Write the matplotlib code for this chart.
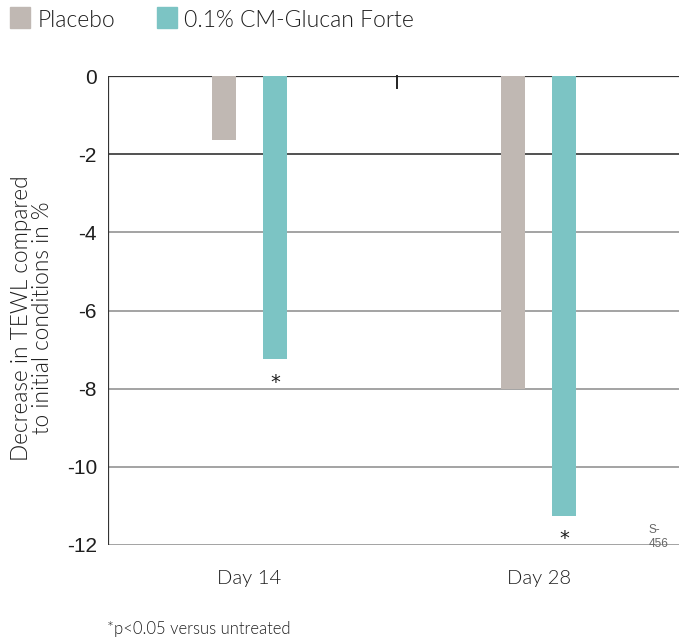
import matplotlib
matplotlib.use("Agg")
import matplotlib.pyplot as plt
from matplotlib.patches import Rectangle
import numpy as np

categories = ["Day 14", "Day 28"]
placebo = [-1.65, -8.0]
cm_glucan = [-7.25, -11.25]
significant = [True, True]
yticks = [0, -2, -4, -6, -8, -10, -12]
series_names = ["Placebo", "0.1% CM-Glucan Forte"]

c_placebo = "#c0b8b3"
c_glucan = "#7cc4c4"
txt = "#1e1e1e"
FONT = "Lato"
WEIGHT = 300

W, H = 679, 639
fig = plt.figure(figsize=(W / 100, H / 100), dpi=100)
fig.patch.set_facecolor("white")

# axes spans past the right edge so the grid runs off the page
left, right, top, bottom = 108, 686, 76, 545
ax = fig.add_axes([left / W, 1 - bottom / H, (right - left) / W, (bottom - top) / H])
ax.set_xlim(-0.5, 1.5)
ax.set_ylim(-12, 0)
ax.set_facecolor("white")

x = np.arange(len(categories)) - 0.01
bw = 0.083
off = 0.089
ax.bar(x - off, placebo, width=bw, color=c_placebo, zorder=3)
ax.bar(x + off, cm_glucan, width=bw, color=c_glucan, zorder=3)

# horizontal grid
for yv in yticks:
    if yv == 0:
        col, lw = "#333333", 1.6
    elif yv == -2:
        col, lw = "#222222", 1.1
    else:
        col, lw = "#8a8a8a", 1.1
    ax.axhline(yv, color=col, lw=lw, zorder=2)

for s in ax.spines.values():
    s.set_visible(False)
ax.axvline(-0.5, color="#333333", lw=1.6, zorder=4)

# category separator tick
ax.plot([0.5, 0.5], [0, -0.3], color="#222222", lw=1.4, zorder=4, clip_on=False)

ax.set_yticks(yticks)
ax.set_yticklabels([str(v) for v in yticks], fontfamily="Liberation Sans", fontsize=15,
                   color=txt)
ax.tick_params(axis="y", length=0, pad=8)
ax.set_xticks(x)
ax.set_xticklabels(categories, fontfamily=FONT, fontweight=WEIGHT, fontsize=14.5, color=txt)
ax.tick_params(axis="x", length=0, pad=18)

for xi, v, sig in zip(x, cm_glucan, significant):
    if sig:
        ax.text(xi + off, v - 0.35, "*", ha="center", va="top", fontsize=14, color=txt)

ax.text(1.37, -11.8, "S-\n456", ha="left", va="center", fontsize=8.5,
        color="#666666", fontfamily="Liberation Sans", linespacing=1.25)

fig.text(32 / W, 1 - 318 / H, "Decrease in TEWL compared\nto initial conditions in %",
         rotation=90, ha="center", va="center", fontsize=16.3, fontfamily=FONT,
         fontweight=WEIGHT, linespacing=1.0, color=txt)

# legend
fig.add_artist(Rectangle((10 / W, 1 - 28 / H), 20 / W, 21 / H, transform=fig.transFigure,
                         color=c_placebo))
fig.text(38 / W, 1 - 27 / H, series_names[0], ha="left", va="baseline",
         fontsize=16.5, fontfamily=FONT, fontweight=WEIGHT, color=txt)
fig.add_artist(Rectangle((157 / W, 1 - 28 / H), 20 / W, 21 / H, transform=fig.transFigure,
                         color=c_glucan))
fig.text(184 / W, 1 - 27 / H, series_names[1], ha="left", va="baseline",
         fontsize=16.5, fontfamily=FONT, fontweight=WEIGHT, color=txt)

fig.text(107 / W, 1 - 634 / H, "*p<0.05 versus untreated", ha="left", va="baseline",
         fontsize=12, fontfamily=FONT, fontweight=WEIGHT, color=txt)

fig.savefig("out.png", dpi=100, facecolor="white")
